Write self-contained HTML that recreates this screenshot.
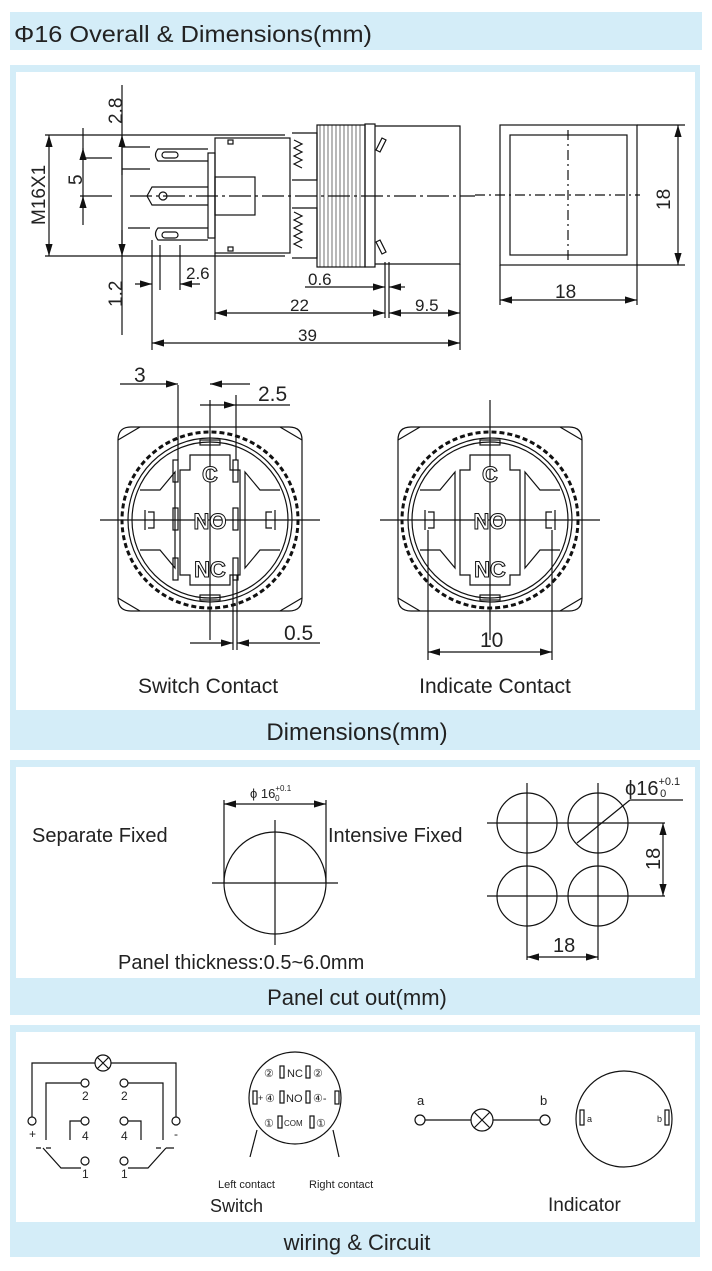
<!DOCTYPE html>
<html><head><meta charset="utf-8"><style>
html,body{margin:0;padding:0;background:#fff;}
svg{display:block;font-family:"Liberation Sans",Arial,sans-serif;}
</style></head><body>
<svg width="712" height="1271" viewBox="0 0 712 1271" xmlns="http://www.w3.org/2000/svg">
<defs>
<marker id="ar" viewBox="0 0 10 6" refX="10" refY="3" markerWidth="10" markerHeight="6" orient="auto-start-reverse"><path d="M0,0L10,3L0,6z" fill="#111"/></marker>
</defs>
<rect x="10" y="12" width="692" height="38" fill="#d4edf8"/>
<text x="14" y="42" font-size="23" fill="#222" textLength="358" lengthAdjust="spacingAndGlyphs">Φ16 Overall &amp; Dimensions(mm)</text>

<rect x="10" y="65" width="690" height="685" fill="#d4edf8"/>
<rect x="16" y="72" width="679" height="638" fill="#fff"/>
<text x="357" y="740" font-size="24" fill="#222" text-anchor="middle">Dimensions(mm)</text>

<rect x="10" y="760" width="690" height="255" fill="#d4edf8"/>
<rect x="16" y="767" width="679" height="211" fill="#fff"/>
<text x="357" y="1005" font-size="22" fill="#222" text-anchor="middle">Panel cut out(mm)</text>

<rect x="10" y="1025" width="690" height="232" fill="#d4edf8"/>
<rect x="16" y="1032" width="679" height="190" fill="#fff"/>
<text x="357" y="1250" font-size="22" fill="#222" text-anchor="middle">wiring &amp; Circuit</text>

<g stroke="#111" stroke-width="1.2" fill="none">
<line x1="45" y1="135" x2="285" y2="135"/>
<line x1="45" y1="256" x2="285" y2="256"/>
<line x1="49" y1="135" x2="49" y2="256" marker-start="url(#ar)" marker-end="url(#ar)"/>
<line x1="83" y1="128" x2="83" y2="225"/>
<line x1="83" y1="148" x2="83" y2="158" marker-start="url(#ar)"/>
<line x1="83" y1="196" x2="83" y2="205" marker-start="url(#ar)"/>
<line x1="80" y1="158" x2="112" y2="158"/><line x1="80" y1="196" x2="112" y2="196"/>
<line x1="122" y1="85" x2="122" y2="335"/>
<line x1="122" y1="135" x2="122" y2="175" marker-start="url(#ar)"/>
<line x1="122" y1="230" x2="122" y2="256" marker-end="url(#ar)"/>
<line x1="122" y1="147" x2="150" y2="147"/><line x1="122" y1="169" x2="150" y2="169"/>
<line x1="128" y1="228" x2="150" y2="228"/>
<line x1="130" y1="196" x2="475" y2="196" stroke-dasharray="22 4 3 4"/>
<rect x="215" y="138" width="75" height="115"/>
<rect x="208" y="153" width="7" height="85"/>
<rect x="215" y="177" width="40" height="38"/>
<rect x="228" y="140" width="5" height="4"/><rect x="228" y="247" width="5" height="4"/>
<path d="M208,149 H158 q-5,6 0,12 H208"/><rect x="162" y="152" width="16" height="6" rx="3"/>
<path d="M208,187 H152 l-5,9 5,9 H208"/><circle cx="163" cy="196" r="4"/>
<path d="M208,228 H158 q-5,6 0,12 H208"/><rect x="162" y="232" width="16" height="6" rx="3"/>
<path d="M292,133 h25 v47 h-25 M292,208 h25 v50 h-25"/>
<path d="M294,140 l8,4 -8,4 8,4 -8,4 8,4 -8,4 8,4 M294,212 l8,4 -8,4 8,4 -8,4 8,4 -8,4 8,4 -8,4 8,4"/>
<rect x="317" y="125" width="48" height="142"/>
<path d="M320,125V267M324,125V267M328,125V267M332,125V267M336,125V267M340,125V267M344,125V267M348,125V267M352,125V267M356,125V267M360,125V267" stroke-width="0.6"/>
<rect x="365" y="124" width="10" height="143"/>
<path d="M375,126 H460 V264 H375"/>
<path d="M376,150 l6,-12 4,2 -6,12z M376,242 l6,12 4,-2 -6,-12z"/>
<line x1="152" y1="240" x2="152" y2="350"/>
<line x1="160" y1="245" x2="160" y2="290"/><line x1="180" y1="245" x2="180" y2="290"/>
<line x1="135" y1="284" x2="152" y2="284" marker-end="url(#ar)"/><line x1="200" y1="284" x2="180" y2="284" marker-end="url(#ar)"/>
<line x1="215" y1="253" x2="215" y2="320"/>
<line x1="385" y1="262" x2="385" y2="318"/><line x1="389" y1="262" x2="389" y2="318"/>
<line x1="460" y1="264" x2="460" y2="350"/>
<line x1="305" y1="287" x2="385" y2="287" marker-end="url(#ar)"/><line x1="405" y1="287" x2="389" y2="287" marker-end="url(#ar)"/>
<line x1="215" y1="313" x2="385" y2="313" marker-start="url(#ar)" marker-end="url(#ar)"/>
<line x1="389" y1="313" x2="460" y2="313" marker-start="url(#ar)" marker-end="url(#ar)"/>
<line x1="152" y1="343" x2="460" y2="343" marker-start="url(#ar)" marker-end="url(#ar)"/>
<rect x="500" y="125" width="137" height="140"/>
<rect x="510" y="135" width="117" height="120"/>
<line x1="568" y1="130" x2="568" y2="260" stroke-dasharray="10 4 2 4"/>
<line x1="475" y1="195" x2="640" y2="195" stroke-dasharray="10 4 2 4"/>
<line x1="637" y1="125" x2="685" y2="125"/><line x1="637" y1="265" x2="685" y2="265"/>
<line x1="678" y1="125" x2="678" y2="265" marker-start="url(#ar)" marker-end="url(#ar)"/>
<line x1="500" y1="265" x2="500" y2="305"/><line x1="637" y1="265" x2="637" y2="305"/>
<line x1="500" y1="300" x2="637" y2="300" marker-start="url(#ar)" marker-end="url(#ar)"/>
</g>
<g font-size="19" fill="#222">
<text transform="translate(45,225) rotate(-90)">M16X1</text>
<text transform="translate(82,185) rotate(-90)">5</text>
<text transform="translate(122,124) rotate(-90)">2.8</text>
<text transform="translate(122,307) rotate(-90)">1.2</text>
<text x="186" y="279" font-size="17">2.6</text>
<text x="308" y="285" font-size="17">0.6</text>
<text x="290" y="311" font-size="17">22</text>
<text x="415" y="311" font-size="17">9.5</text>
<text x="298" y="341" font-size="17">39</text>
<text x="555" y="298">18</text>
<text transform="translate(670,210) rotate(-90)">18</text>
</g>

<g stroke="#111" stroke-width="1.2" fill="none">
<g id="bv">
<path d="M118,440 q0,-13 13,-13 h158 q13,0 13,13 v158 q0,13 -13,13 h-158 q-13,0 -13,-13z"/>
<path d="M118,440 l22,-13 M302,440 l-22,-13 M118,598 l22,13 M302,598 l-22,13"/>
<circle cx="210" cy="520" r="88" stroke-dasharray="5 3" stroke-width="3"/>
<circle cx="210" cy="520" r="82"/>
<circle cx="210" cy="520" r="78"/>
<rect x="200" y="440" width="20" height="5"/><rect x="200" y="595" width="20" height="5"/>
<path d="M140,490 h20 l15,-18 v96 l-15,-18 h-20 M280,490 h-20 l-15,-18 v96 l15,-18 h20"/>
<path d="M190,455 h40 v15 h10 v105 h-10 v10 h-40 v-10 h-10 v-105 h10z"/>
<line x1="100" y1="520" x2="320" y2="520"/>
<line x1="210" y1="400" x2="210" y2="640"/>
</g>
<use href="#bv" x="280"/>
<rect x="173" y="460" width="5" height="22"/><rect x="233" y="460" width="5" height="22"/>
<rect x="173" y="508" width="5" height="22"/><rect x="233" y="508" width="5" height="22"/>
<rect x="173" y="558" width="5" height="22"/><rect x="233" y="558" width="5" height="22"/>
<path d="M145,510 v20 M148,512 h6 v16 h-6 M275,510 v20 M272,512 h-6 v16 h6"/>
<path d="M425,510 v20 M428,512 h6 v16 h-6 M555,510 v20 M552,512 h-6 v16 h6"/>
<line x1="178" y1="385" x2="178" y2="460"/><line x1="236" y1="395" x2="236" y2="460"/>
<line x1="120" y1="384" x2="178" y2="384" marker-end="url(#ar)"/><line x1="250" y1="384" x2="210" y2="384" marker-end="url(#ar)"/>
<line x1="200" y1="405" x2="236" y2="405" marker-end="url(#ar)"/><line x1="290" y1="405" x2="236" y2="405"/>
<line x1="233" y1="575" x2="233" y2="650"/><line x1="237" y1="575" x2="237" y2="650"/>
<line x1="190" y1="643" x2="233" y2="643" marker-end="url(#ar)"/><line x1="320" y1="643" x2="237" y2="643" marker-end="url(#ar)"/>
<line x1="428" y1="530" x2="428" y2="660"/><line x1="552" y1="530" x2="552" y2="660"/>
<line x1="428" y1="652" x2="552" y2="652" marker-start="url(#ar)" marker-end="url(#ar)"/>
</g>
<g font-size="22" font-weight="bold" text-anchor="middle" fill="#fff" stroke="#111" stroke-width="1">
<text x="210" y="482">C</text><text x="210" y="529">NO</text><text x="210" y="577">NC</text>
<text x="490" y="482">C</text><text x="490" y="529">NO</text><text x="490" y="577">NC</text>
</g>
<g font-size="21" fill="#222">
<text x="134" y="382">3</text><text x="258" y="401">2.5</text>
<text x="284" y="640">0.5</text><text x="480" y="647">10</text>
<text x="208" y="693" text-anchor="middle">Switch Contact</text>
<text x="495" y="693" text-anchor="middle">Indicate Contact</text>
</g>

<g stroke="#111" stroke-width="1.2" fill="none">
<circle cx="275" cy="883" r="51"/>
<line x1="275" y1="820" x2="275" y2="945"/><line x1="212" y1="883" x2="338" y2="883"/>
<line x1="224" y1="800" x2="224" y2="883"/><line x1="326" y1="800" x2="326" y2="883"/>
<line x1="224" y1="804" x2="326" y2="804" marker-start="url(#ar)" marker-end="url(#ar)"/>
<circle cx="527" cy="823" r="30"/><circle cx="598" cy="823" r="30"/>
<circle cx="527" cy="896" r="30"/><circle cx="598" cy="896" r="30"/>
<line x1="527" y1="783" x2="527" y2="960"/><line x1="598" y1="783" x2="598" y2="960"/>
<line x1="487" y1="823" x2="665" y2="823"/><line x1="487" y1="896" x2="665" y2="896"/>
<line x1="577" y1="843" x2="630" y2="800"/><line x1="630" y1="800" x2="683" y2="800"/>
<line x1="663" y1="823" x2="663" y2="896" marker-start="url(#ar)" marker-end="url(#ar)"/>
<line x1="527" y1="957" x2="598" y2="957" marker-start="url(#ar)" marker-end="url(#ar)"/>
</g>
<g fill="#222">
<text x="250" y="798" font-size="13">ϕ 16<tspan font-size="8" dy="-7">+0.1</tspan><tspan font-size="8" dx="-16" dy="10">0</tspan></text>
<text x="625" y="795" font-size="20">ϕ16<tspan font-size="11" dy="-10">+0.1</tspan><tspan font-size="11" dx="-20" dy="12">0</tspan></text>
<text x="32" y="842" font-size="20">Separate Fixed</text>
<text x="328" y="842" font-size="20">Intensive Fixed</text>
<text x="118" y="969" font-size="20">Panel thickness:0.5~6.0mm</text>
<text transform="translate(660,870) rotate(-90)" font-size="20">18</text>
<text x="553" y="952" font-size="20">18</text>
</g>

<g stroke="#111" stroke-width="1.2" fill="none">
<circle cx="103" cy="1063" r="8"/><path d="M97,1057 l12,12 M109,1057 l-12,12"/>
<path d="M95,1063 H32 V1117 M111,1063 H176 V1117"/>
<circle cx="32" cy="1121" r="4"/><circle cx="176" cy="1121" r="4"/>
<circle cx="85" cy="1083" r="4"/><circle cx="124" cy="1083" r="4"/>
<circle cx="85" cy="1121" r="4"/><circle cx="124" cy="1121" r="4"/>
<circle cx="85" cy="1161" r="4"/><circle cx="124" cy="1161" r="4"/>
<path d="M81,1083 H46 V1140 M128,1083 H163 V1140"/>
<path d="M81,1121 H70 V1140 M128,1121 H141 V1140"/>
<path d="M43,1148 l18,20 h20 M166,1148 l-18,20 h-20"/>
<path d="M36,1148 h5 M46,1148 h5 M156,1148 h5 M166,1148 h5 M170,1148 h4" />
<circle cx="295" cy="1098" r="46"/>
<line x1="257" y1="1130" x2="250" y2="1157"/><line x1="333" y1="1130" x2="339" y2="1157"/>
<rect x="280" y="1066" width="4" height="12"/><rect x="306" y="1066" width="4" height="12"/>
<rect x="253" y="1091" width="4" height="13"/><rect x="280" y="1091" width="4" height="12"/><rect x="306" y="1091" width="4" height="12"/><rect x="335" y="1091" width="4" height="13"/>
<rect x="278" y="1116" width="4" height="12"/><rect x="310" y="1116" width="4" height="12"/>
<circle cx="420" cy="1120" r="5"/><circle cx="545" cy="1120" r="5"/>
<line x1="425" y1="1120" x2="471" y2="1120"/><line x1="493" y1="1120" x2="540" y2="1120"/>
<circle cx="482" cy="1120" r="11"/><path d="M474,1112 l16,16 M490,1112 l-16,16"/>
<circle cx="624" cy="1119" r="48"/>
<rect x="580" y="1110" width="4" height="15"/><rect x="665" y="1110" width="4" height="15"/>
</g>
<g fill="#222" font-size="12">
<text x="82" y="1100">2</text><text x="121" y="1100">2</text>
<text x="82" y="1140">4</text><text x="121" y="1140">4</text>
<text x="82" y="1178">1</text><text x="121" y="1178">1</text>
<text x="29" y="1138">+</text><text x="174" y="1138">-</text>
<text x="264" y="1077" font-size="11">②</text><text x="287" y="1077" font-size="11">NC</text><text x="313" y="1077" font-size="11">②</text>
<text x="258" y="1101" font-size="9">+</text><text x="265" y="1102" font-size="11">④</text><text x="286" y="1102" font-size="11">NO</text><text x="313" y="1102" font-size="11">④-</text>
<text x="264" y="1127" font-size="11">①</text><text x="284" y="1126" font-size="8">COM</text><text x="316" y="1127" font-size="11">①</text>
<text x="218" y="1188" font-size="11">Left contact</text>
<text x="309" y="1188" font-size="11">Right contact</text>
<text x="210" y="1212" font-size="18">Switch</text>
<text x="417" y="1105" font-size="13">a</text><text x="540" y="1105" font-size="13">b</text>
<text x="587" y="1122" font-size="9">a</text><text x="657" y="1122" font-size="9">b</text>
<text x="548" y="1211" font-size="19">Indicator</text>
</g>
</svg>
</body></html>
